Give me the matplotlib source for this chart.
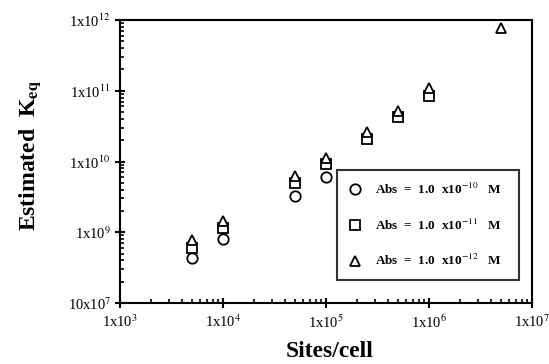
import matplotlib
matplotlib.use("Agg")
import matplotlib.pyplot as plt
from matplotlib.ticker import FixedLocator, LogLocator, NullFormatter

plt.rcParams['font.family'] = ['Liberation Serif', 'DejaVu Serif']
plt.rcParams['mathtext.fontset'] = 'stix'

x_circle = [5e3, 1e4, 5e4, 1e5]
y_circle = [4.3e8, 8.0e8, 3.3e9, 6.1e9]
x_square = [5e3, 1e4, 5e4, 1e5, 2.5e5, 5e5, 1e6]
y_square = [5.9e8, 1.16e9, 4.9e9, 9.1e9, 2.1e10, 4.3e10, 8.4e10]
x_tri = [5e3, 1e4, 5e4, 1e5, 2.5e5, 5e5, 1e6, 5e6]
y_tri = [7.8e8, 1.46e9, 6.2e9, 1.11e10, 2.6e10, 5.2e10, 1.08e11, 7.6e11]

labels = [r'Abs  =  1.0  x10$^{-10}$   M', r'Abs  =  1.0  x10$^{-11}$   M', r'Abs  =  1.0  x10$^{-12}$   M']
xticks = [1e3, 1e4, 1e5, 1e6, 1e7]
xticklabels = [r'1x10$^{3}$', r'1x10$^{4}$', r'1x10$^{5}$', r'1x10$^{6}$', r'1x10$^{7}$']
yticks = [1e8, 1e9, 1e10, 1e11, 1e12]
yticklabels = [r'10x10$^{7}$', r'1x10$^{9}$', r'1x10$^{10}$', r'1x10$^{11}$', r'1x10$^{12}$']

fig = plt.figure(figsize=(5.49, 3.64), dpi=100)
ax = fig.add_axes([120/549, 1-303/364, 412/549, 283/364])
ax.set_xscale('log')
ax.set_yscale('log')
mk = dict(linestyle='none', markerfacecolor='white', markeredgecolor='black', markeredgewidth=1.3, markersize=7.5)
h1, = ax.plot(x_circle, y_circle, marker='o', **mk)
h2, = ax.plot(x_square, y_square, marker='s', **mk)
h3, = ax.plot(x_tri, y_tri, marker='^', **mk)
ax.set_xlim(1e3, 1e7)
ax.set_ylim(1e8, 1e12)
ax.xaxis.set_major_locator(FixedLocator(xticks))
ax.set_xticklabels(xticklabels)
ax.yaxis.set_major_locator(FixedLocator(yticks))
ax.set_yticklabels(yticklabels)
ax.xaxis.set_minor_locator(LogLocator(base=10, subs=range(2, 10), numticks=20))
ax.yaxis.set_minor_locator(LogLocator(base=10, subs=range(2, 10), numticks=20))
ax.xaxis.set_minor_formatter(NullFormatter())
ax.yaxis.set_minor_formatter(NullFormatter())
ax.tick_params(which='major', direction='inout', length=7, width=1.5, labelsize=10.5, top=False, right=False)
ax.tick_params(which='minor', direction='in', length=3, width=1.2, top=False, right=False)
ax.tick_params(axis='x', which='major', pad=4)
ax.tick_params(axis='y', which='major', pad=3)
for s in ax.spines.values():
    s.set_linewidth(1.5)
ax.set_xlabel('Sites/cell', fontsize=17, fontweight='bold')
ax.set_ylabel(r'Estimated  K$_{\mathbf{eq}}$', fontsize=17, fontweight='bold')
ax.xaxis.set_label_coords((330-120)/412, -(341-303)/283)
ax.yaxis.set_label_coords(-(120-43)/412, (303-155)/283)
leg = ax.legend([h1, h2, h3], labels, loc='lower left',
                bbox_to_anchor=((337-120)/412, (303-280)/283, (519-337)/412, (280-163)/283),
                mode='expand', frameon=True, fancybox=False, edgecolor='black',
                prop={'weight': 'bold', 'size': 9.5}, labelspacing=1.55, borderpad=0.9,
                handletextpad=1.0, handlelength=1.0, borderaxespad=0)
leg.get_frame().set_linewidth(1.5)
fig.savefig('out.png', dpi=100)
